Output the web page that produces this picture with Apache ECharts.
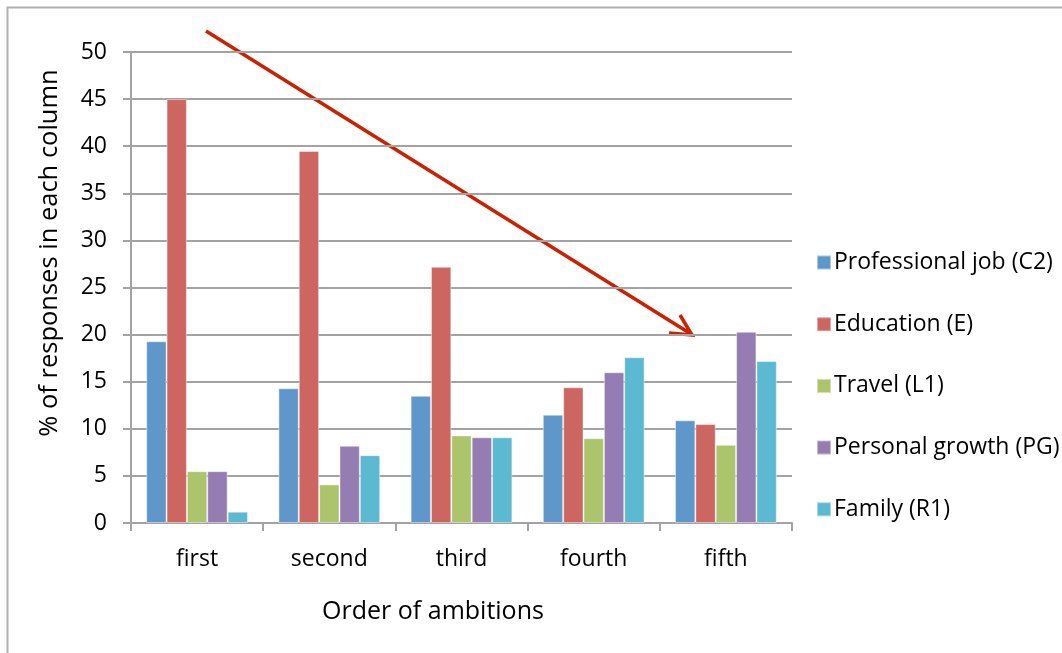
<!DOCTYPE html>
<html>
<head>
<meta charset="utf-8">
<script src="https://cdn.jsdelivr.net/npm/echarts@6/dist/echarts.min.js"></script>
<style>
  html, body { margin: 0; padding: 0; background: #fff; }
  #chart { width: 1062px; height: 653px; }
</style>
</head>
<body>
<div id="chart"></div>
<script>
// Order in which ambitions were ranked
const categories = ['first', 'second', 'third', 'fourth', 'fifth'];

// % of responses in each column, per ambition type
const professionalJob = [19.3, 14.3, 13.5, 11.5, 10.9];
const education       = [45.0, 39.5, 27.2, 14.4, 10.5];
const travel          = [5.5, 4.1, 9.3, 9.0, 8.3];
const personalGrowth  = [5.5, 8.2, 9.1, 16.0, 20.3];
const family          = [1.2, 7.2, 9.1, 17.6, 17.2];

const seriesNames = ['Professional job (C2)', 'Education (E)', 'Travel (L1)', 'Personal growth (PG)', 'Family (R1)'];
const seriesValues = [professionalJob, education, travel, personalGrowth, family];
const colors = ['#6097CA', '#CD6660', '#ACC46C', '#957CB2', '#5CB9D2'];

const yTicks = [0, 5, 10, 15, 20, 25, 30, 35, 40, 45, 50];

const FONT = 'Open Sans';
const gridColor = '#a3a3a3';

const chart = echarts.init(document.getElementById('chart'), null, { renderer: 'canvas' });

const option = {
  animation: false,
  backgroundColor: '#fff',
  textStyle: { fontFamily: FONT, color: '#000' },
  grid: { left: 131, right: 270, top: 52, bottom: 130 },
  legend: {
    orient: 'vertical',
    left: 811,
    top: 246,
    icon: 'rect',
    itemWidth: 14,
    itemHeight: 14,
    itemGap: 38.7,
    textStyle: { fontFamily: FONT, fontSize: 23, color: '#000', lineHeight: 22, padding: [0, 0, 0, -2] },
    data: seriesNames
  },
  xAxis: {
    type: 'category',
    data: categories,
    axisLine: { lineStyle: { color: gridColor, width: 2 } },
    axisTick: { show: true, alignWithLabel: false, length: 8, lineStyle: { color: gridColor, width: 2 } },
    axisLabel: { fontFamily: FONT, fontSize: 23, color: '#000', margin: 25 },
    splitLine: { show: false }
  },
  yAxis: {
    type: 'value',
    min: 0,
    max: 50,
    interval: 5,
    axisLine: { show: true, lineStyle: { color: gridColor, width: 2 } },
    axisTick: { show: true, length: 8, lineStyle: { color: gridColor, width: 2 } },
    axisLabel: {
      fontFamily: FONT, fontSize: 23, color: '#000', margin: 24,
      formatter: v => (yTicks.indexOf(v) >= 0 ? String(v) : '')
    },
    splitLine: { show: true, lineStyle: { color: gridColor, width: 2 } }
  },
  series: seriesNames.map((name, i) => ({
    name: name,
    type: 'bar',
    data: seriesValues[i],
    barGap: '0%',
    barCategoryGap: '23%',
    itemStyle: { color: colors[i], borderColor: 'rgba(255,255,255,0.45)', borderWidth: 1 }
  })),
  graphic: [
    // outer chart frame
    {
      type: 'rect', left: 5, top: 5, silent: true,
      shape: { x: 0, y: 0, width: 1100, height: 700 },
      style: { fill: 'none', stroke: '#b0b0b0', lineWidth: 2 }
    },
    // y axis title
    {
      type: 'text', x: 50, y: 253, rotation: Math.PI / 2, silent: true,
      style: {
        text: '% of responses in each column', fontFamily: FONT, fontSize: 25.5,
        fill: '#000', align: 'center', verticalAlign: 'middle'
      }
    },
    // x axis title
    {
      type: 'text', x: 433, y: 612, silent: true,
      style: {
        text: 'Order of ambitions', fontFamily: FONT, fontSize: 25,
        fill: '#000', align: 'center', verticalAlign: 'middle'
      }
    },
    // trend arrow
    {
      type: 'line', silent: true,
      shape: { x1: 206, y1: 31, x2: 691, y2: 334 },
      style: { stroke: '#CC2000', lineWidth: 3.5 }
    },
    {
      type: 'polyline', silent: true,
      shape: { points: [[680, 315], [692, 335], [669, 333]] },
      style: { stroke: '#CC2000', lineWidth: 3.5, fill: 'none', lineJoin: 'miter' }
    }
  ]
};

chart.setOption(option);
</script>
</body>
</html>
